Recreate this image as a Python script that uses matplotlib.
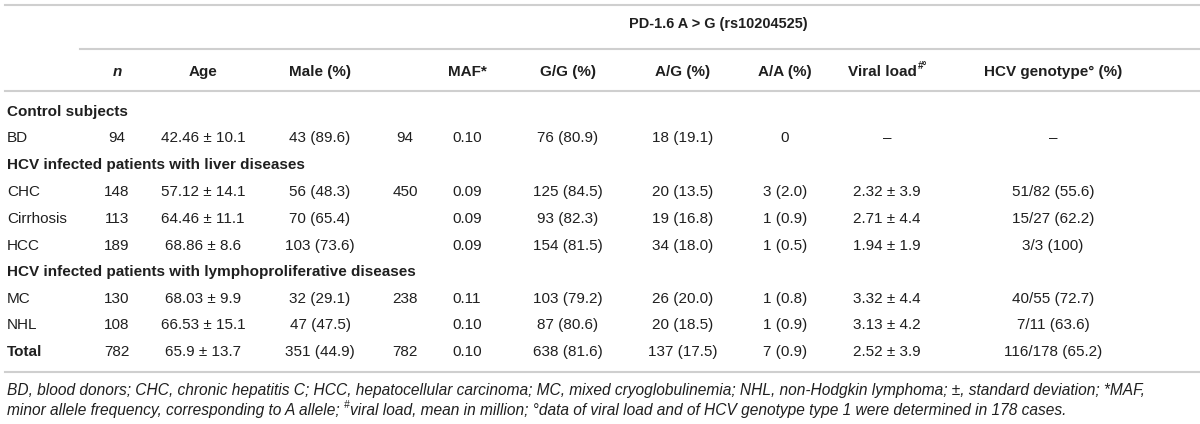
import matplotlib
matplotlib.use("Agg")
import matplotlib.pyplot as plt
from matplotlib.lines import Line2D

# ---- table data ----
header_top = "PD-1.6 A > G (rs10204525)"
col_headers = ["n", "Age", "Male (%)", "", "MAF*", "G/G (%)", "A/G (%)", "A/A (%)",
               "Viral load", "HCV genotype° (%)"]

groups = ["Control subjects",
          "HCV infected patients with liver diseases",
          "HCV infected patients with lymphoproliferative diseases"]

labels = ["BD", "CHC", "Cirrhosis", "HCC", "MC", "NHL", "Total"]
n_vals = ["94", "148", "113", "189", "130", "108", "782"]
age = ["42.46 ± 10.1", "57.12 ± 14.1", "64.46 ± 11.1", "68.86 ± 8.6",
       "68.03 ± 9.9", "66.53 ± 15.1", "65.9 ± 13.7"]
male = ["43 (89.6)", "56 (48.3)", "70 (65.4)", "103 (73.6)",
        "32 (29.1)", "47 (47.5)", "351 (44.9)"]
group_n = ["94", "450", "", "", "238", "", "782"]
maf = ["0.10", "0.09", "0.09", "0.09", "0.11", "0.10", "0.10"]
gg = ["76 (80.9)", "125 (84.5)", "93 (82.3)", "154 (81.5)",
      "103 (79.2)", "87 (80.6)", "638 (81.6)"]
ag = ["18 (19.1)", "20 (13.5)", "19 (16.8)", "34 (18.0)",
      "26 (20.0)", "20 (18.5)", "137 (17.5)"]
aa = ["0", "3 (2.0)", "1 (0.9)", "1 (0.5)", "1 (0.8)", "1 (0.9)", "7 (0.9)"]
viral = ["–", "2.32 ± 3.9", "2.71 ± 4.4", "1.94 ± 1.9",
         "3.32 ± 4.4", "3.13 ± 4.2", "2.52 ± 3.9"]
genotype = ["–", "51/82 (55.6)", "15/27 (62.2)", "3/3 (100)",
            "40/55 (72.7)", "7/11 (63.6)", "116/178 (65.2)"]

footnote1 = [("BD, blood donors; CHC, chronic hepatitis C; HCC, hepatocellular carcinoma; "
              "MC, mixed cryoglobulinemia; NHL, non-Hodgkin lymphoma; ±, standard deviation; *MAF,", False)]
footnote2 = [("minor allele frequency, corresponding to A allele; ", False), ("#", True),
             ("viral load, mean in million; °data of viral load and of HCV genotype type 1 "
              "were determined in 178 cases.", False)]

# ---- layout (pixels) ----
col_x = [117, 203, 320, 405, 467, 568, 683, 785, 887, 1053]
row_y = [138, 192, 219, 246, 299, 325, 352]
group_y = [112, 165, 272]
text_color = "#1f1f1f"
rule_color = "#cfcfcf"
FS = 11.0
FONT = "Liberation Sans"

plt.rcParams["font.family"] = [FONT, "DejaVu Sans"]

fig = plt.figure(figsize=(12, 4.24), dpi=100)
ax = fig.add_axes([0, 0, 1, 1])
ax.set_xlim(0, 1200)
ax.set_ylim(424, 0)
ax.axis("off")


def rule(y, x0=5, x1=1200):
    ax.add_line(Line2D([x0, x1], [y, y], color=rule_color, lw=1.5))


rule(5)
rule(49, x0=80)
rule(91)
rule(372)

ax.text(718, 24, header_top, ha="center", va="center", fontsize=FS * 0.95,
        fontweight="bold", color=text_color)

# column headers
for i, h in enumerate(col_headers):
    if not h or h == "Viral load":
        continue
    style = "italic" if h == "n" else "normal"
    ax.text(col_x[i], 72, h, ha="center", va="center", fontsize=FS,
            fontweight="bold", style=style, color=text_color)

# viral load header with superscript
fig.canvas.draw()
renderer = fig.canvas.get_renderer()
main = ax.text(0, 72, "Viral load", ha="left", va="center", fontsize=FS,
               fontweight="bold", color=text_color)
sup = ax.text(0, 66, "#°", ha="left", va="center", fontsize=FS * 0.65,
              fontweight="bold", color=text_color)
w_main = main.get_window_extent(renderer).width
w_sup = sup.get_window_extent(renderer).width
x_start = col_x[8] - (w_main + w_sup) / 2
main.set_x(x_start)
sup.set_x(x_start + w_main + 1)

for gy, g in zip(group_y, groups):
    ax.text(7, gy, g, ha="left", va="center", fontsize=FS, fontweight="bold",
            color=text_color)

columns = [n_vals, age, male, group_n, maf, gg, ag, aa, viral, genotype]
for r, lab in enumerate(labels):
    y = row_y[r]
    bold = "bold" if lab == "Total" else "normal"
    ax.text(7, y, lab, ha="left", va="center", fontsize=FS, fontweight=bold,
            color=text_color)
    for c, vals in enumerate(columns):
        if vals[r]:
            ax.text(col_x[c], y, vals[r], ha="center", va="center", fontsize=FS,
                    color=text_color)


def draw_runs(x, y, runs, size):
    for txt, is_sup in runs:
        yy = y - 5 if is_sup else y
        s = size * 0.65 if is_sup else size
        t = ax.text(x, yy, txt, ha="left", va="center", fontsize=s,
                    style="italic", color=text_color)
        x += t.get_window_extent(renderer).width


draw_runs(7, 390, footnote1, 11.2)
draw_runs(7, 410, footnote2, 11.2)

fig.savefig("out.png", dpi=100, facecolor="white")
